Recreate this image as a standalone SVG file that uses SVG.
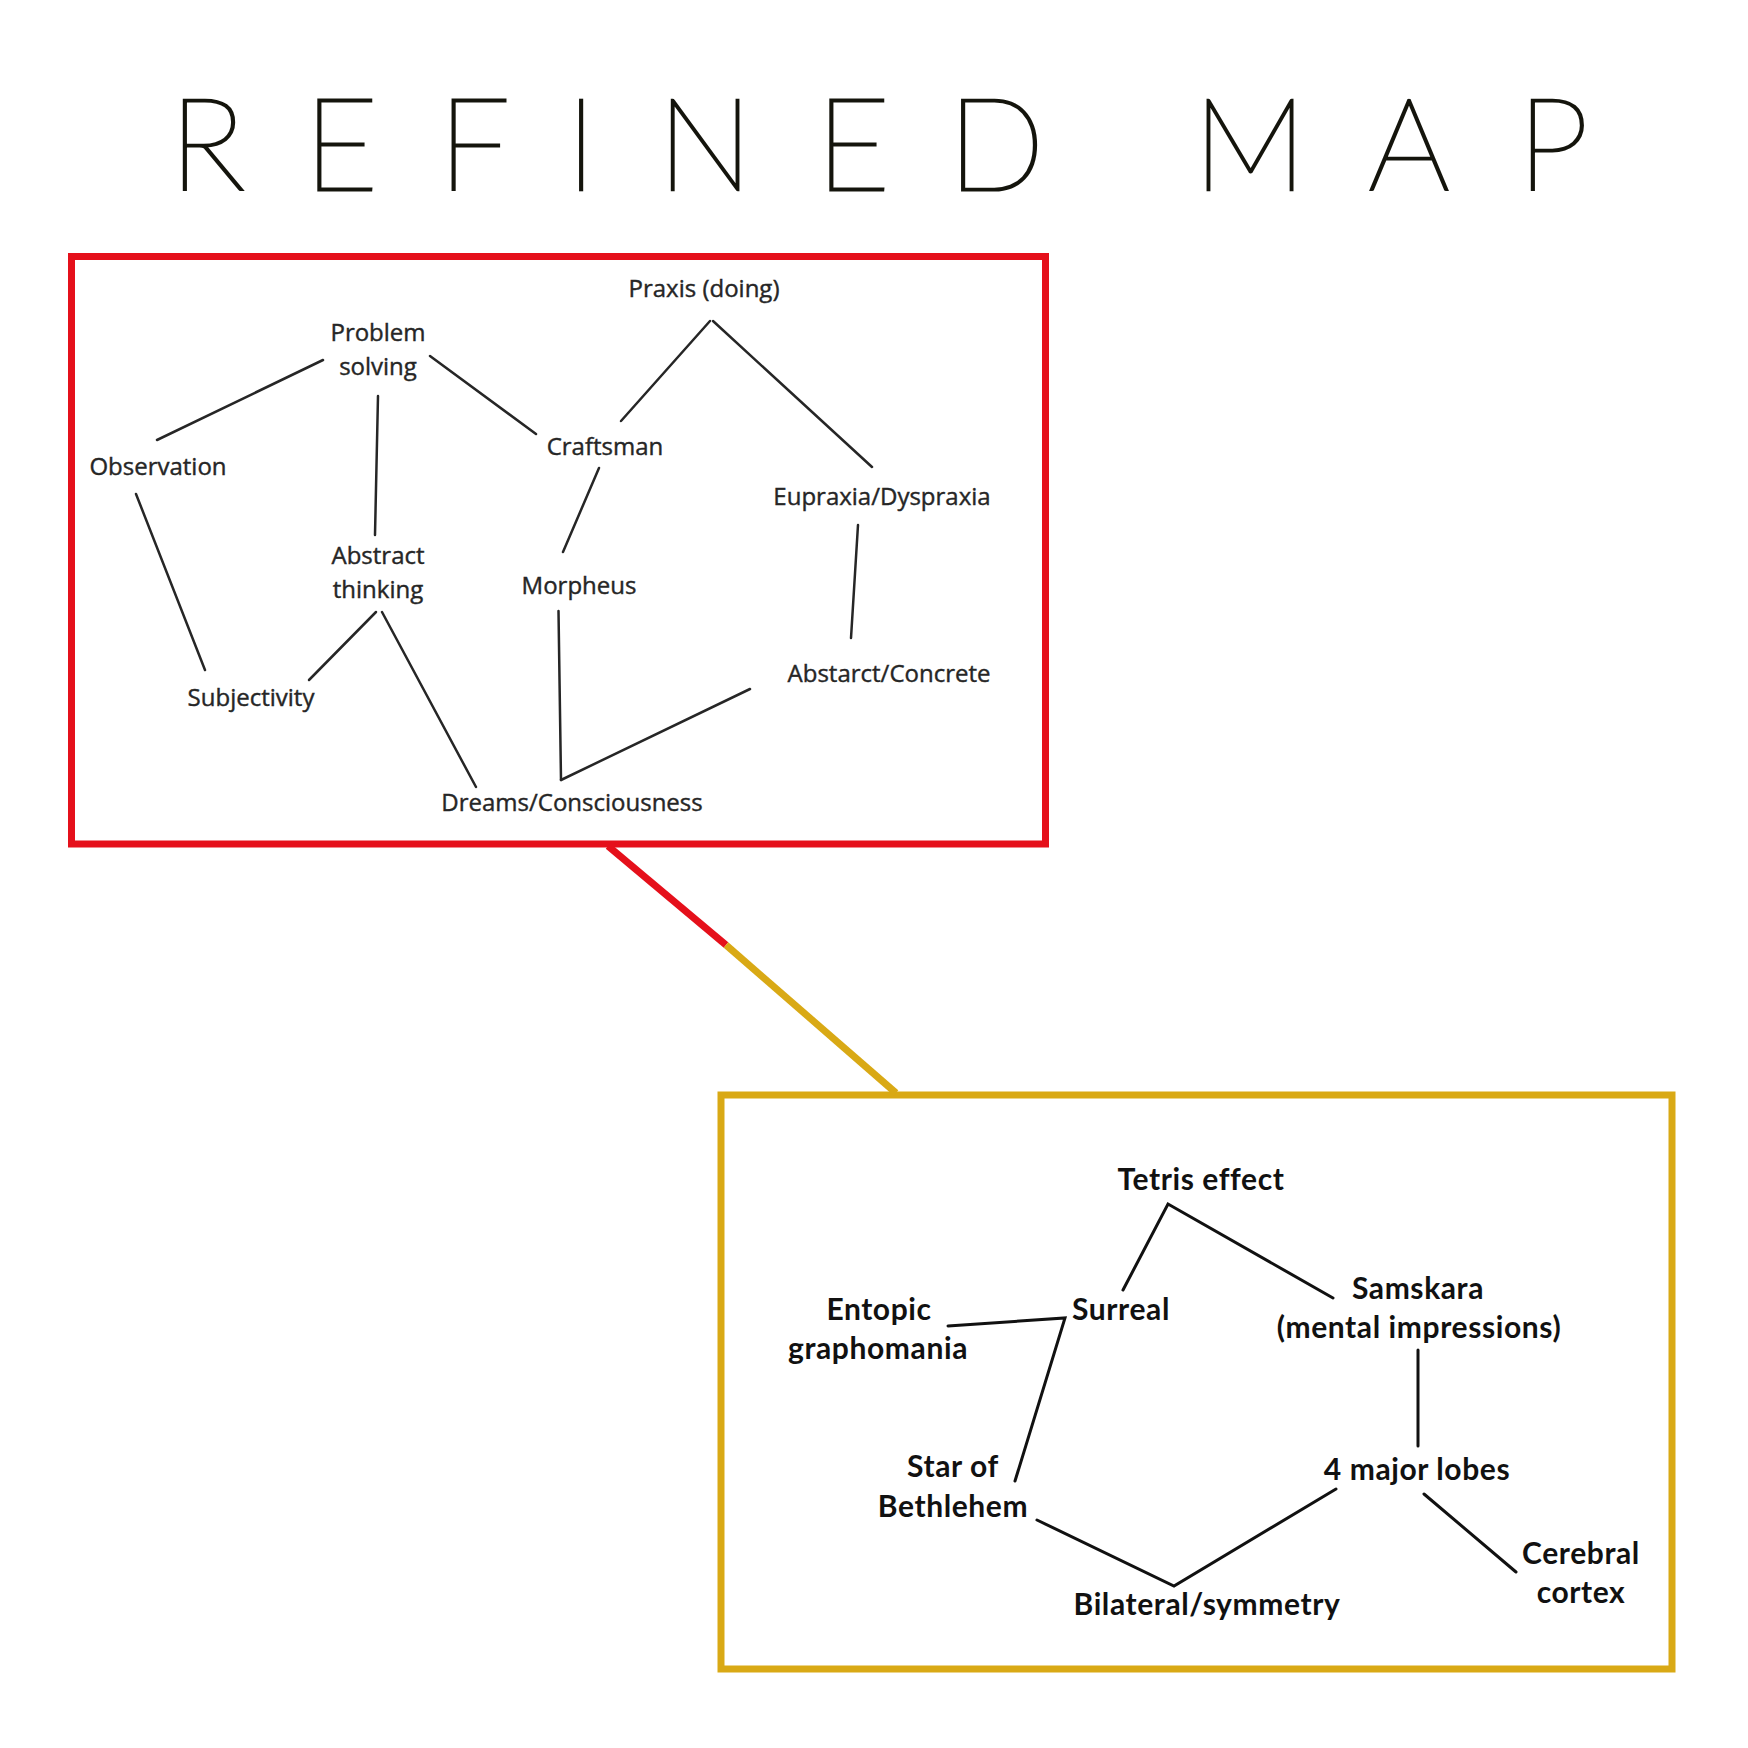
<svg xmlns="http://www.w3.org/2000/svg" width="1748" height="1748" viewBox="0 0 1748 1748">
<style>
.title{font-family:Lato,"Open Sans",sans-serif;font-weight:200;font-size:128px;fill:#14140c;stroke:#14140c;stroke-width:2.6px;text-anchor:middle}
.rt{font-family:"Open Sans","Noto Sans",sans-serif;font-size:24px;fill:#262626;stroke:#262626;stroke-width:0.4px;text-anchor:middle}
.yt{font-family:Lato,"Open Sans",sans-serif;font-weight:700;font-size:30px;letter-spacing:0.6px;fill:#111;text-anchor:middle}
.rl{stroke:#262626;stroke-width:2.5;fill:none;stroke-linecap:round}
.yl{stroke:#111;stroke-width:3;fill:none;stroke-linecap:round;stroke-linejoin:miter}
</style>
<rect width="1748" height="1748" fill="#fff"/>
<text class="title" y="190" x="207 341 474 581 705 853 996 1250 1409 1553">REFINEDMAP</text>

<g id="red-box"><rect x="71.5" y="256.5" width="974" height="587.5" fill="none" stroke="#e5101b" stroke-width="7"/></g>
<g id="yellow-box"><rect x="721" y="1095" width="951" height="574" fill="none" stroke="#d9a915" stroke-width="7"/></g>

<g id="connectors">
<line x1="608" y1="846" x2="726" y2="945" stroke="#e5101b" stroke-width="7"/>
<line x1="726" y1="945" x2="896" y2="1093" stroke="#d9a915" stroke-width="7"/>
<line class="rl" x1="323" y1="360" x2="157" y2="440"/>
<line class="rl" x1="430" y1="356" x2="536" y2="434"/>
<line class="rl" x1="378" y1="396" x2="375" y2="535"/>
<line class="rl" x1="710" y1="321" x2="621" y2="421"/>
<line class="rl" x1="713" y1="321" x2="872" y2="467"/>
<line class="rl" x1="599" y1="468" x2="563" y2="552"/>
<line class="rl" x1="858" y1="525" x2="851" y2="638"/>
<line class="rl" x1="136" y1="494" x2="205" y2="670"/>
<line class="rl" x1="376" y1="612" x2="309" y2="680"/>
<line class="rl" x1="382" y1="612" x2="476" y2="787"/>
<line class="rl" x1="558.5" y1="611" x2="561" y2="780"/>
<line class="rl" x1="750" y1="689" x2="561" y2="780"/>
<polyline class="yl" points="1123,1290 1168,1204 1333,1298"/>
<polyline class="yl" points="948,1326 1065,1318 1015,1481"/>
<line class="yl" x1="1418" y1="1350" x2="1418" y2="1446"/>
<polyline class="yl" points="1037,1520 1174,1586 1336,1489"/>
<line class="yl" x1="1424" y1="1494" x2="1516" y2="1572"/>
</g>

<g id="praxis"><text class="rt" x="704" y="297">Praxis (doing)</text></g>
<g id="problem-solving"><text class="rt" x="378" y="341">Problem</text><text class="rt" x="378" y="375">solving</text></g>
<g id="observation"><text class="rt" x="158" y="475">Observation</text></g>
<g id="craftsman"><text class="rt" x="605" y="455">Craftsman</text></g>
<g id="eupraxia"><text class="rt" x="882" y="505">Eupraxia/Dyspraxia</text></g>
<g id="abstract-thinking"><text class="rt" x="378" y="564">Abstract</text><text class="rt" x="378" y="598">thinking</text></g>
<g id="morpheus"><text class="rt" x="579" y="594">Morpheus</text></g>
<g id="subjectivity"><text class="rt" x="251" y="706">Subjectivity</text></g>
<g id="abstarct-concrete"><text class="rt" x="889" y="682">Abstarct/Concrete</text></g>
<g id="dreams"><text class="rt" x="572" y="811">Dreams/Consciousness</text></g>

<g id="tetris"><text class="yt" x="1201" y="1190">Tetris effect</text></g>
<g id="entopic"><text class="yt" x="879" y="1320">Entopic</text><text class="yt" x="878" y="1359">graphomania</text></g>
<g id="surreal"><text class="yt" x="1121" y="1320">Surreal</text></g>
<g id="samskara"><text class="yt" x="1418" y="1299">Samskara</text><text class="yt" x="1419" y="1338">(mental impressions)</text></g>
<g id="star"><text class="yt" x="953" y="1477">Star of</text><text class="yt" x="953" y="1517">Bethlehem</text></g>
<g id="lobes"><text class="yt" x="1417" y="1480">4 major lobes</text></g>
<g id="cerebral"><text class="yt" x="1581" y="1564">Cerebral</text><text class="yt" x="1581" y="1603">cortex</text></g>
<g id="bilateral"><text class="yt" x="1207" y="1615">Bilateral/symmetry</text></g>
</svg>
